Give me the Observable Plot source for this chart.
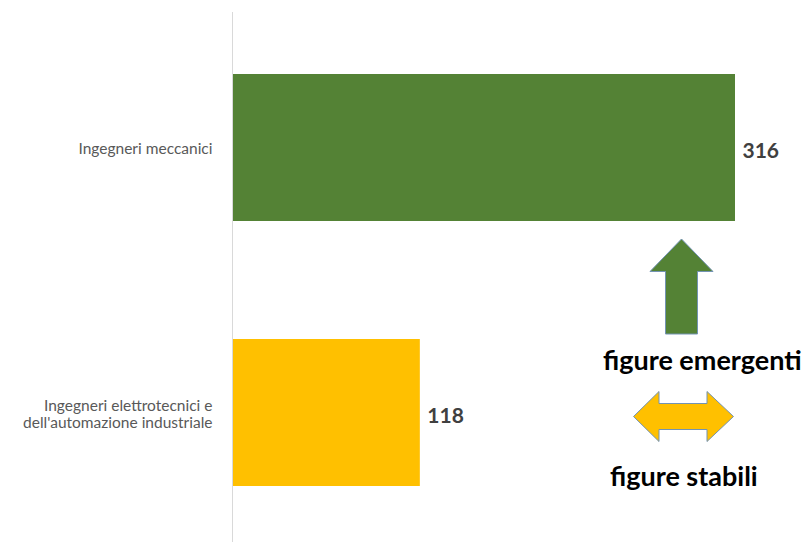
<!DOCTYPE html>
<html>
<head>
<meta charset="utf-8">
<script src="https://cdn.jsdelivr.net/npm/d3@7"></script>
<script src="https://cdn.jsdelivr.net/npm/@observablehq/plot@0.6"></script>
<style>
  html, body { margin: 0; padding: 0; background: #fff; }
  svg { overflow: visible; }
</style>
</head>
<body>
<div id="chart"></div>
<script>
const categories = ["Ingegneri meccanici", "Ingegneri elettrotecnici e\ndell'automazione industriale"];
const values = [316, 118];
const barColors = ["#548235", "#FFC000"];
const annotationLabels = ["figure emergenti", "figure stabili"];

const data = categories.map((c, i) => ({category: c, value: values[i], color: barColors[i]}));

const FONT = "Lato, 'Open Sans', sans-serif";

// decorative annotation (arrows + captions), drawn as a render-only mark
function annotations(index, scales, values, dims) {
  const g = d3.create("svg:g").attr("text-anchor", "start");
  const outline = "#7393b3";
  // green up arrow
  g.append("path")
    .attr("d", "M681.5,239 L713,271.5 L697.5,271.5 L697.5,334 L665.5,334 L665.5,271.5 L650,271.5 Z")
    .attr("fill", barColors[0]).attr("stroke", outline).attr("stroke-width", 1);
  g.append("text")
    .attr("x", 603).attr("y", 361).attr("dy", "0.35em").attr("text-anchor", "start")
    .attr("font-family", FONT).attr("font-weight", "bold").attr("font-size", 27)
    .attr("fill", "#000").text(annotationLabels[0]);
  // yellow double arrow
  g.append("path")
    .attr("d", "M633.5,416.5 L659,391.5 L659,403.5 L707,403.5 L707,391.5 L733.5,416.5 L707,441.5 L707,429.5 L659,429.5 L659,441.5 Z")
    .attr("fill", barColors[1]).attr("stroke", outline).attr("stroke-width", 1);
  g.append("text")
    .attr("x", 610).attr("y", 477).attr("dy", "0.35em").attr("text-anchor", "start")
    .attr("font-family", FONT).attr("font-weight", "bold").attr("font-size", 27)
    .attr("fill", "#000").text(annotationLabels[1]);
  return g.node();
}

const chart = Plot.plot({
  width: 808,
  height: 542,
  marginLeft: 232,
  marginRight: 73,
  marginTop: 12,
  marginBottom: 0,
  style: {fontFamily: FONT, background: "#fff", overflow: "visible"},
  x: {domain: [0, 316], axis: null},
  y: {domain: categories, axis: null, paddingInner: 0.447, paddingOuter: 0.22, align: 0.52},
  marks: [
    Plot.barX(data, {x: "value", y: "category", fill: "color"}),
    Plot.ruleX([0], {stroke: "#d9d9d9", strokeWidth: 1}),
    Plot.text(data, {x: 0, y: "category", text: "category", textAnchor: "end", dx: -20, dy: 1,
      fontSize: 15.5, fill: "#595959", lineHeight: 1.1}),
    Plot.text(data, {x: "value", y: "category", text: d => String(d.value), textAnchor: "start", dx: 7, dy: 3,
      fontSize: 21, fontWeight: "bold", fill: "#404040"}),
    annotations
  ]
});
document.getElementById("chart").appendChild(chart);
</script>
</body>
</html>
